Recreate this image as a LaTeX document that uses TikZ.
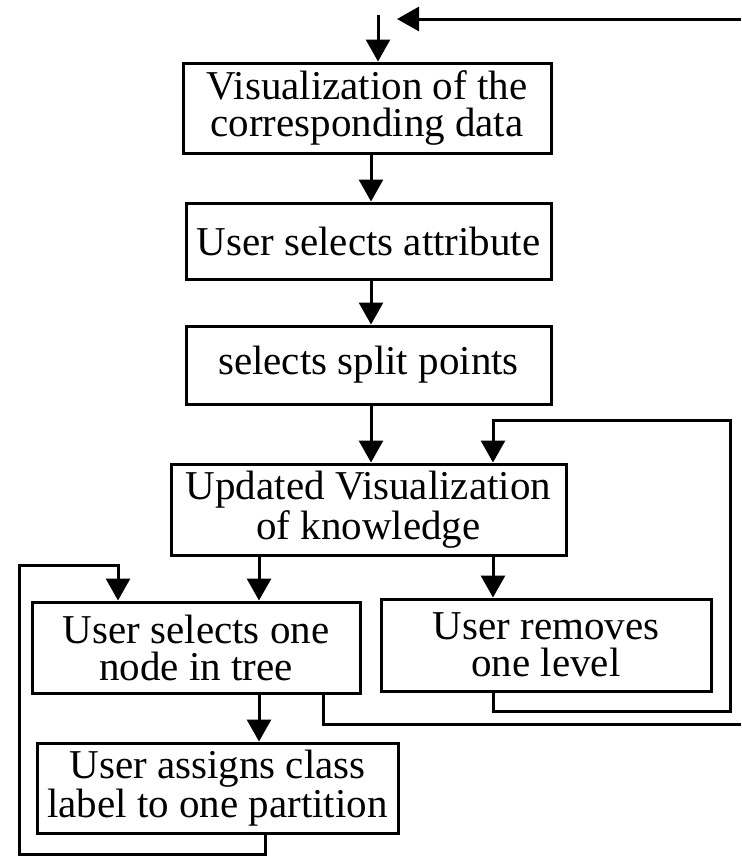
\documentclass[tikz,border=0pt]{standalone}
\usepackage{fontspec}
\setmainfont{Liberation Serif}
\usetikzlibrary{arrows.meta}

\tikzset{
    >={Triangle[length=11pt,width=12pt]},
    stage/.style={draw, line width=1.5pt, inner sep=0pt, align=center,
        font=\fontsize{20.5}{18.5}\selectfont},
    flow/.style={line width=1.5pt},
}

\begin{document}
\begin{tikzpicture}[x=0.5pt, y=-0.5pt]
    \useasboundingbox (0,0) rectangle (741,858);

    \node (vis) at (367,108) [stage, minimum width=184pt, minimum height=45pt] {Visualization of the\\corresponding data};
    \node (attr) at (368.5,241) [stage, minimum width=182.5pt, minimum height=38pt] {User selects attribute};
    \node (split) at (368.5,365) [stage, minimum width=182.5pt, minimum height=39pt] {selects split points};
    \node (upd) at (368.5,509.5) [stage, minimum width=197.5pt, minimum height=45.5pt] {Updated Visualization\\of knowledge};
    \node (pick) at (196,647.5) [stage, minimum width=164pt, minimum height=45.5pt] {User selects one\\node in tree};
    \node (remove) at (546,645) [stage, minimum width=165pt, minimum height=46pt] {User removes\\one level};
    \node (assign) at (217.5,788) [stage, minimum width=180.5pt, minimum height=45pt] {User assigns class\\label to one partition};

    % columns of the connectors
    \coordinate (spine) at (371,0);
    \coordinate (lcol) at (259,0);
    \coordinate (rcol) at (493,0);
    \coordinate (lx) at (118,0);
    \coordinate (pickx) at (323,0);
    \coordinate (asx) at (265,0);

    % entry and return
    \coordinate (in) at (378,15);
    \coordinate (ret) at (741,19);
    \coordinate (retend) at (397,19);
    \draw [->, flow] (in) -- (in |- vis.north);
    \draw [->, flow] (ret) -- (retend);

    % main column
    \draw [->, flow] (vis.south -| spine) -- (attr.north -| spine);
    \draw [->, flow] (attr.south -| spine) -- (split.north -| spine);
    \draw [->, flow] (split.south -| spine) -- (upd.north -| spine);
    \draw [->, flow] (upd.south -| lcol) -- (pick.north -| lcol);
    \draw [->, flow] (upd.south -| rcol) -- (remove.north -| rcol);
    \draw [->, flow] (pick.south -| lcol) -- (assign.north -| lcol);

    % loops
    \coordinate (rb) at (730,711);
    \coordinate (rt) at (730,420);
    \draw [->, flow] (remove.south -| rcol) |- (rb) -- (rt) -| (upd.north -| rcol);

    \coordinate (lb) at (19,854);
    \coordinate (lt) at (19,565);
    \draw [->, flow] (assign.south -| asx) |- (lb) -- (lt) -| (pick.north -| lx);

    \coordinate (out) at (741,724);
    \draw [flow] (pick.south -| pickx) |- (out);
\end{tikzpicture}
\end{document}
